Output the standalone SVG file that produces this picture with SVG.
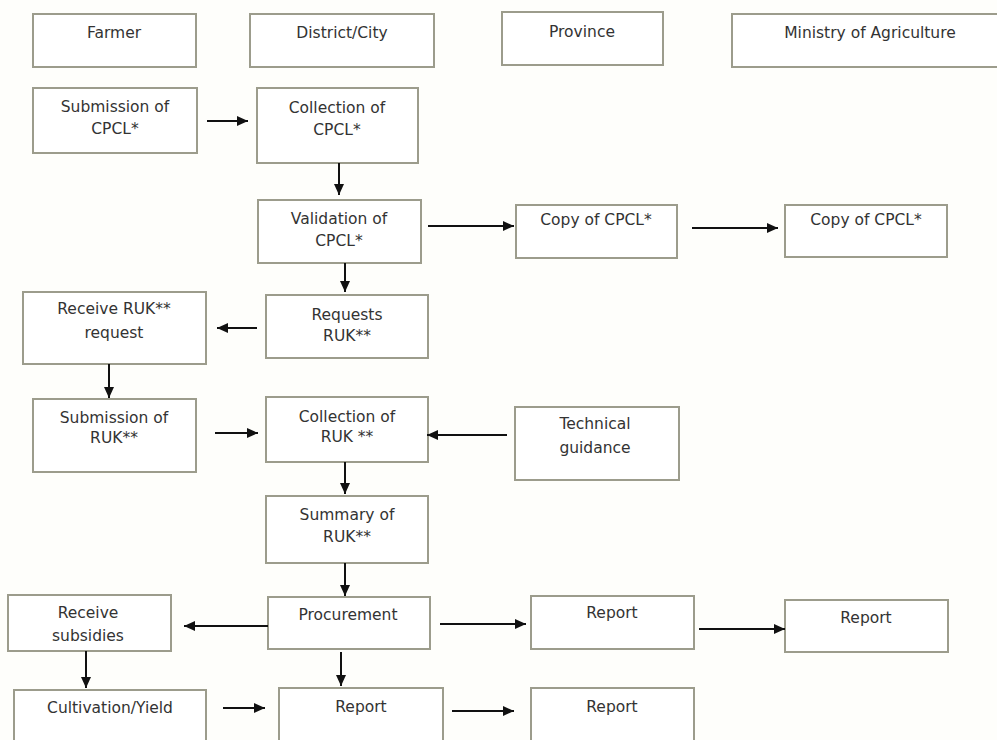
<svg xmlns="http://www.w3.org/2000/svg" width="997" height="740" viewBox="0 0 997 740">
<defs>
<marker id="ah" markerUnits="userSpaceOnUse" markerWidth="11" markerHeight="10" refX="11" refY="5" orient="auto">
<path d="M0,0 L11,5 L0,10 z" fill="#111"/>
</marker>
<style>
.b{fill:#fff;stroke:#9c9c8c;stroke-width:2}
.t{font-family:"DejaVu Sans",sans-serif;font-size:15.5px;fill:#333;text-anchor:middle}
.c{stroke:#111;stroke-width:2;fill:none;marker-end:url(#ah)}
</style>
</defs>
<rect width="997" height="740" fill="#fefefb"/>
<g id="farmer"><rect class="b" x="33" y="14" width="163" height="53"/><text class="t" x="114" y="38">Farmer</text></g>
<g id="district"><rect class="b" x="250" y="14" width="184" height="53"/><text class="t" x="342" y="38">District/City</text></g>
<g id="province"><rect class="b" x="502" y="12" width="161" height="53"/><text class="t" x="582" y="37">Province</text></g>
<g id="ministry"><rect class="b" x="732" y="14" width="270" height="53"/><text class="t" x="870" y="38">Ministry of Agriculture</text></g>

<g id="sub_cpcl"><rect class="b" x="33" y="88" width="164" height="65"/><text class="t" x="115" y="112">Submission of</text><text class="t" x="115" y="134">CPCL*</text></g>
<g id="col_cpcl"><rect class="b" x="257" y="88" width="161" height="75"/><text class="t" x="337" y="113">Collection of</text><text class="t" x="337" y="135">CPCL*</text></g>
<g id="val_cpcl"><rect class="b" x="258" y="200" width="163" height="63"/><text class="t" x="339" y="224">Validation of</text><text class="t" x="339" y="246">CPCL*</text></g>
<g id="copy1"><rect class="b" x="516" y="205" width="161" height="53"/><text class="t" x="596" y="225">Copy of CPCL*</text></g>
<g id="copy2"><rect class="b" x="785" y="205" width="162" height="52"/><text class="t" x="866" y="225">Copy of CPCL*</text></g>
<g id="req_ruk"><rect class="b" x="266" y="295" width="162" height="63"/><text class="t" x="347" y="320">Requests</text><text class="t" x="347" y="341">RUK**</text></g>
<g id="recv_ruk"><rect class="b" x="23" y="292" width="183" height="72"/><text class="t" x="114" y="314">Receive RUK**</text><text class="t" x="114" y="338">request</text></g>
<g id="sub_ruk"><rect class="b" x="33" y="399" width="163" height="73"/><text class="t" x="114" y="423">Submission of</text><text class="t" x="114" y="443">RUK**</text></g>
<g id="col_ruk"><rect class="b" x="266" y="397" width="162" height="65"/><text class="t" x="347" y="422">Collection of</text><text class="t" x="347" y="442">RUK **</text></g>
<g id="tech"><rect class="b" x="515" y="407" width="164" height="73"/><text class="t" x="595" y="429">Technical</text><text class="t" x="595" y="453">guidance</text></g>
<g id="sum_ruk"><rect class="b" x="266" y="496" width="162" height="67"/><text class="t" x="347" y="520">Summary of</text><text class="t" x="347" y="542">RUK**</text></g>
<g id="proc"><rect class="b" x="268" y="597" width="162" height="52"/><text class="t" x="348" y="620">Procurement</text></g>
<g id="subsid"><rect class="b" x="8" y="595" width="163" height="56"/><text class="t" x="88" y="618">Receive</text><text class="t" x="88" y="641">subsidies</text></g>
<g id="rep_p1"><rect class="b" x="531" y="596" width="163" height="53"/><text class="t" x="612" y="618">Report</text></g>
<g id="rep_m"><rect class="b" x="785" y="600" width="163" height="52"/><text class="t" x="866" y="623">Report</text></g>
<g id="cult"><rect class="b" x="14" y="690" width="192" height="60"/><text class="t" x="110" y="713">Cultivation/Yield</text></g>
<g id="rep_d"><rect class="b" x="279" y="688" width="164" height="62"/><text class="t" x="361" y="712">Report</text></g>
<g id="rep_p2"><rect class="b" x="531" y="688" width="163" height="62"/><text class="t" x="612" y="712">Report</text></g>

<g id="connectors">
<line class="c" x1="207" y1="121" x2="248" y2="121"/>
<line class="c" x1="339" y1="163" x2="339" y2="195"/>
<line class="c" x1="428" y1="226" x2="514" y2="226"/>
<line class="c" x1="692" y1="228" x2="778" y2="228"/>
<line class="c" x1="345" y1="263" x2="345" y2="292"/>
<line class="c" x1="257" y1="328" x2="217" y2="328"/>
<line class="c" x1="109" y1="364" x2="109" y2="398"/>
<line class="c" x1="215" y1="433" x2="258" y2="433"/>
<line class="c" x1="507" y1="435" x2="427" y2="435"/>
<line class="c" x1="345" y1="462" x2="345" y2="494"/>
<line class="c" x1="345" y1="563" x2="345" y2="596"/>
<line class="c" x1="268" y1="626" x2="184" y2="626"/>
<line class="c" x1="440" y1="624" x2="526" y2="624"/>
<line class="c" x1="699" y1="629" x2="785" y2="629"/>
<line class="c" x1="86" y1="651" x2="86" y2="688"/>
<line class="c" x1="341" y1="652" x2="341" y2="686"/>
<line class="c" x1="223" y1="708" x2="265" y2="708"/>
<line class="c" x1="452" y1="711" x2="514" y2="711"/>
</g>
</svg>
